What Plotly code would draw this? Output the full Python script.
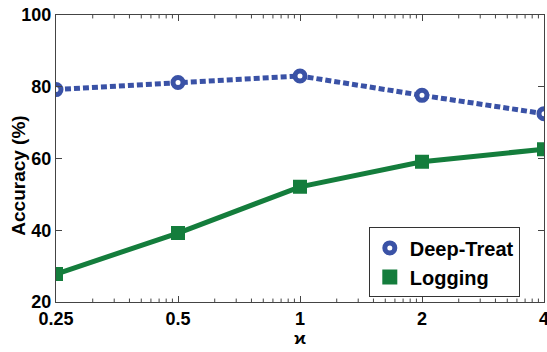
import numpy as np
import plotly.graph_objects as go

x_vals = [0.25, 0.5, 1, 2, 4]
x_labels = ["0.25", "0.5", "1", "2", "4"]
deep_treat = [79.2, 81.2, 83.0, 77.6, 72.5]
logging_acc = [27.8, 39.2, 52.1, 59.1, 62.6]
y_ticks = [20, 40, 60, 80, 100]

blue = "#3A52A6"
green = "#147D3C"
axis_col = "#444444"
font_family = "Liberation Sans, Arial, sans-serif"

# minor tick positions (log10 pattern within each octave, as in the original)
minor = []
for a in x_vals[:-1]:
    for k in range(2, 10):
        minor.append(a * 2 ** np.log10(k))

blue_marker = dict(symbol="circle", size=10, color="white", line=dict(color=blue, width=5))
green_marker = dict(symbol="square", size=10, color=green, line=dict(color=green, width=4))

fig = go.Figure()
fig.add_trace(go.Scatter(
    x=x_vals, y=deep_treat, name="Deep-Treat", mode="lines+markers",
    line=dict(color=blue, width=5, dash="6px,3px"), marker=blue_marker, showlegend=False,
))
fig.add_trace(go.Scatter(
    x=x_vals, y=logging_acc, name="Logging", mode="lines+markers",
    line=dict(color=green, width=5), marker=green_marker, showlegend=False,
))
# legend entries (marker only, as in the original)
fig.add_trace(go.Scatter(x=[None], y=[None], name="Deep-Treat", mode="markers", marker=blue_marker))
fig.add_trace(go.Scatter(x=[None], y=[None], name="Logging", mode="markers",
                         marker=dict(symbol="square", size=12, color=green, line=dict(color=green, width=3))))

# minor ticks drawn on bottom and top edges
for m in minor:
    fig.add_shape(type="line", xref="x", yref="y domain", x0=m, x1=m, y0=0, y1=0.012,
                  line=dict(color=axis_col, width=1))
    fig.add_shape(type="line", xref="x", yref="y domain", x0=m, x1=m, y0=1, y1=0.988,
                  line=dict(color=axis_col, width=1))

fig.add_annotation(
    text="Accuracy (%)", textangle=-90, showarrow=False,
    xref="paper", yref="paper", x=(19 - 56) / 488, y=0.44, xanchor="center", yanchor="middle",
    font=dict(family=font_family, size=19, weight="bold", color="black"),
)

fig.update_layout(
    width=547, height=352,
    margin=dict(l=56, r=3, t=15, b=50),
    paper_bgcolor="white", plot_bgcolor="white",
    font=dict(family=font_family, size=18, color="black"),
    showlegend=True,
    legend=dict(
        x=0.641, y=0.016, xanchor="left", yanchor="bottom",
        bgcolor="white", bordercolor="#333", borderwidth=1,
        font=dict(family=font_family, size=20, color="black", weight="bold"),
        itemwidth=30, tracegroupgap=0,
    ),
)
fig.update_xaxes(
    type="log", range=[np.log10(0.25) - 1e-6, np.log10(4) + 1e-6],
    tickmode="array", tickvals=x_vals, ticktext=x_labels,
    tickfont=dict(family=font_family, size=18, weight="bold"),
    ticks="inside", ticklen=6, tickcolor=axis_col, ticklabeloverflow="allow",
    showline=True, linecolor=axis_col, linewidth=1, mirror="ticks",
    showgrid=False, zeroline=False, automargin=False,
    title=dict(text="ϰ", font=dict(family=font_family, size=17, weight="bold"), standoff=1),
)
fig.update_yaxes(
    range=[20, 100], tickmode="array", tickvals=y_ticks,
    tickfont=dict(family=font_family, size=18, weight="bold"),
    ticks="inside", ticklen=6, tickcolor=axis_col, ticklabeloverflow="allow",
    showline=True, linecolor=axis_col, linewidth=1, mirror="ticks",
    showgrid=False, zeroline=False, automargin=False,
)

fig.write_html("out.html", config={"displayModeBar": False},
               post_script="document.body.style.margin='0';document.body.style.overflow='hidden';")
